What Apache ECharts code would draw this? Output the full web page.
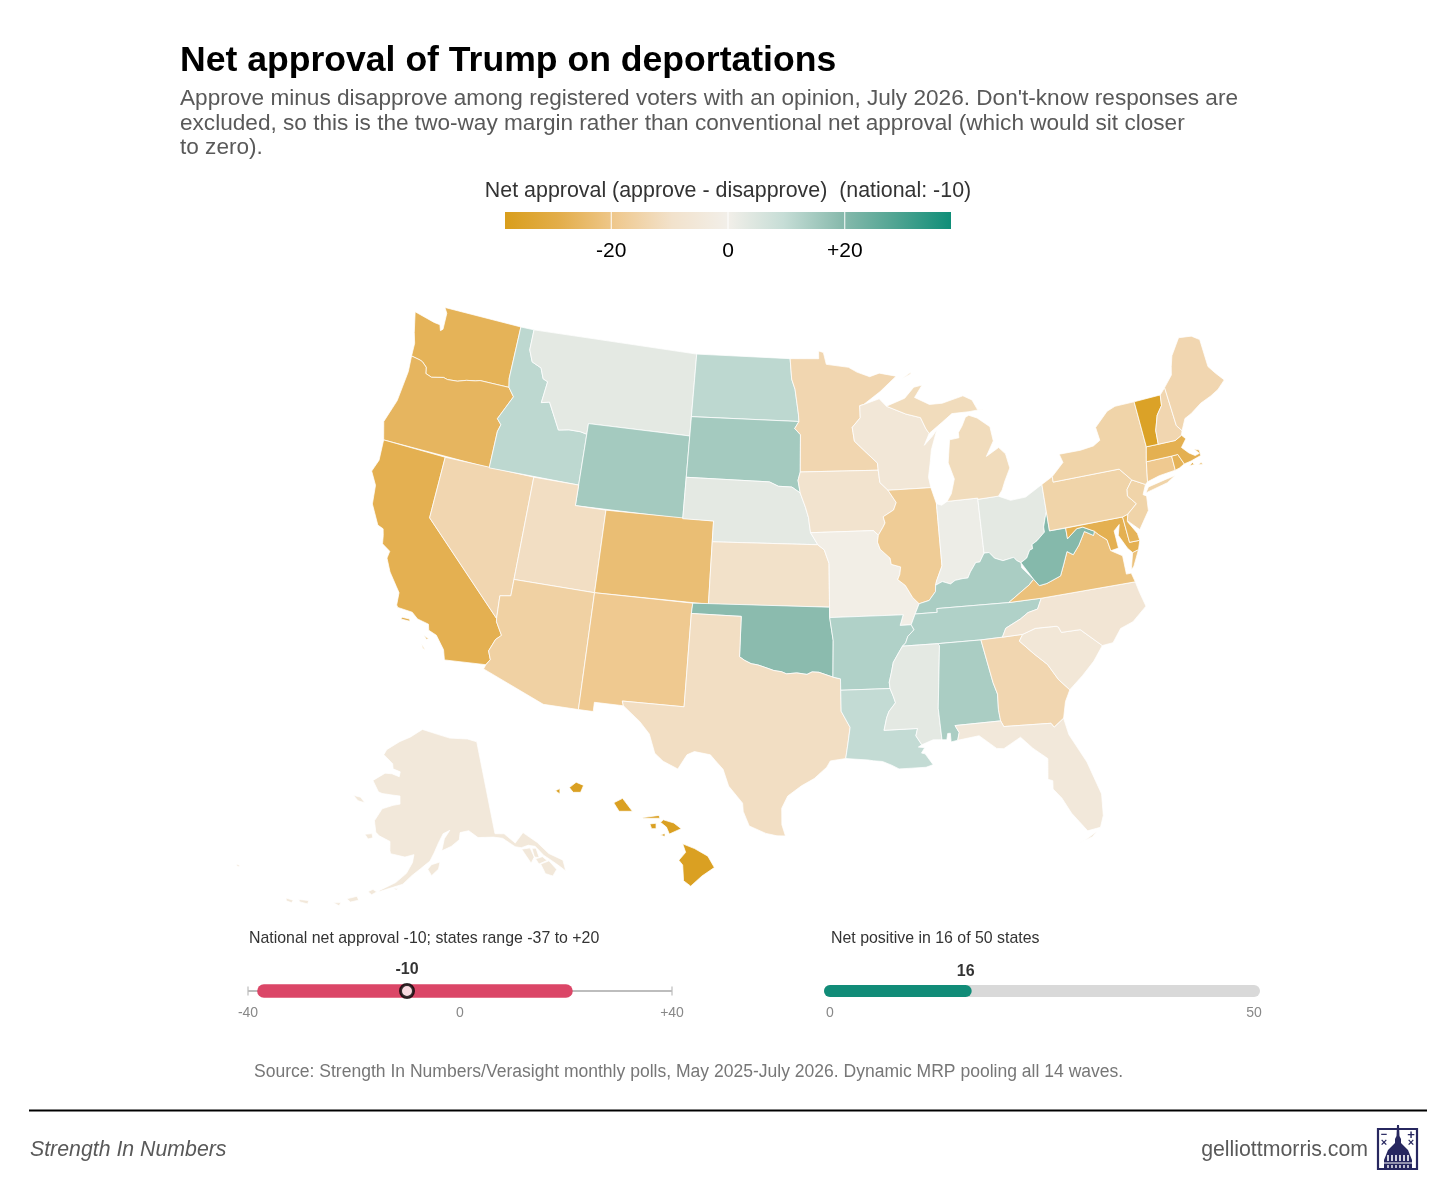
<!DOCTYPE html>
<html><head><meta charset="utf-8">
<style>html,body{margin:0;padding:0;background:#fff}#c{width:1456px;height:1182px}</style>
<script src="https://cdn.jsdelivr.net/npm/echarts@6/dist/echarts.min.js"></script>
</head><body><div id="c"></div>
<script>
// ---------- chart values ----------
const stateCodes  = ['HI','VT','MA','MD','CA','DE','RI','WA','OR','CO','VA','NM','CT','IL','AZ','NY','NJ','PA','NV','ME','NH','MN','GA','MI','UT','TX','KS','IA','NC','SC','WI','AK','FL','MO','IN','MS','OH','MT','NE','LA','ND','ID','TN','AR','KY','AL','SD','WY','OK','WV'];
const stateValues = [-37,-36,-28,-28,-28,-27,-27,-27,-26,-23,-22,-19,-19,-18,-16,-15,-15,-15,-14,-14,-14,-14,-14,-12,-11,-11,-10,-9,-7,-6,-6,-5,-5,-1,1,3,3,3,3,10,11,11,13,13,14,14,15,15,19,20];
const legendTicks = [-20,0,20];
const legendRange = [-38.2,38.2];
const legendColors= ['#D99E1C','#E3AE4C','#EFC98F','#F2E2CC','#F2EFE9','#C6DDD6','#8ABBAE','#50A492','#0F8E78'];
const rangeAxis   = [-40,40];
const rangeTicks  = ['-40','0','+40'];
const stateRange  = [-37,20];
const nationalNet = -10;
const countAxis   = [0,50];
const netPositiveStates = 16;

// ---------- state outlines (lon, lat) ----------
const rev=a=>a.slice().reverse(), R=(...p)=>[].concat(...p);
const stcroix=[[-92.01,46.71],[-92.29,46.66],[-92.29,46.07],[-92.87,45.62],[-92.75,44.95],[-92.0,44.4],[-91.25,43.85],[-91.22,43.5]];
const wiia=[[-91.22,43.5],[-91.15,42.9],[-90.64,42.51]];
const ilia=[[-90.64,42.51],[-90.15,41.9],[-90.35,41.55],[-91.05,41.25],[-90.95,40.95],[-91.1,40.75],[-91.42,40.38]];
const ilmo=[[-91.42,40.38],[-91.5,40.05],[-91.35,39.7],[-90.75,39.25],[-90.7,38.95],[-90.12,38.8],[-90.2,38.45],[-90.35,38.2],[-89.9,37.9],[-89.5,37.3],[-89.13,36.98]];
const tnar=[[-89.7,36],[-89.55,35.75],[-89.95,35.45],[-90.1,35.15],[-90.3,35]];
const msar=[[-90.3,35],[-90.55,34.7],[-90.9,34.25],[-91.05,33.75],[-91.2,33.3],[-91.17,33]];
const msla=[[-91.17,33],[-91,32.6],[-90.9,32.3],[-91.3,31.9],[-91.45,31.6],[-91.63,31],[-89.73,31],[-89.85,30.65],[-89.55,30.2]];
const kyil=[[-89.13,36.98],[-88.5,37.1],[-88.07,37.5],[-88.03,37.8]];
const kyin=[[-88.03,37.8],[-87.6,37.95],[-87.1,37.8],[-86.8,37.95],[-86.3,38],[-86,38],[-85.8,38.28],[-85.4,38.7],[-85.15,38.7],[-84.82,39.1]];
const kyoh=[[-84.82,39.1],[-84.5,39.1],[-84.2,38.8],[-83.7,38.63],[-83,38.72],[-82.85,38.55],[-82.6,38.42]];
const wvoh=[[-82.6,38.42],[-82.2,38.6],[-81.95,38.95],[-81.75,39],[-81.75,39.2],[-81.4,39.35],[-80.85,39.7],[-80.85,39.95],[-80.65,40.4],[-80.52,40.64]];
const moneia=[[-96.45,42.49],[-96.1,41.8],[-95.9,41.3],[-95.85,41],[-95.77,40.58]];
const mone2=[[-95.77,40.58],[-95.31,40]];
const moks=[[-95.31,40],[-94.9,39.75],[-94.61,39.1],[-94.62,37]];
const sdne=[[-104.05,43],[-98.5,43],[-97.9,42.8],[-97,42.77],[-96.45,42.49]];
const redOk=[[-94.48,33.64],[-95.3,33.88],[-95.7,33.9],[-96,33.78],[-96.6,33.85],[-97.2,33.8],[-97.5,33.9],[-97.95,33.95],[-98.5,34.1],[-98.9,34.2],[-99.3,34.25],[-99.7,34.4],[-100,34.56]];
const sabine=[[-94.04,31.99],[-93.55,31.2],[-93.7,30.4],[-93.84,29.7]];
const redRiver=[[-97.23,49],[-97.1,48],[-96.85,47.5],[-96.6,46.3],[-96.56,45.94]];
const sdmn=[[-96.56,45.94],[-96.85,45.6],[-96.45,45.3],[-96.45,43.5]];
const idmt=[[-116.05,49],[-116.05,48],[-115.7,47.45],[-115,47.25],[-114.7,46.75],[-114.35,46.65],[-114.5,45.6],[-113.95,45.7],[-113.45,45.05],[-113,44.45],[-112.3,44.55],[-111.5,44.55],[-111.05,44.48]];
const idor=[[-116.92,46],[-116.47,45.6],[-116.85,45],[-117.22,44.4],[-116.9,44.15],[-117.03,43.8],[-117.03,42]];
const waor=[[-124.05,46.27],[-123.4,46.2],[-123.2,46.15],[-122.85,45.95],[-122.75,45.65],[-122.3,45.55],[-121.5,45.7],[-121.2,45.65],[-120.5,45.7],[-119.9,45.85],[-119.3,45.93],[-118.98,46],[-116.92,46]];
const colo=[[-114.05,36.2],[-114.7,36.1],[-114.63,35]];
const colo2=[[-114.63,35],[-114.6,34.85],[-114.15,34.25],[-114.45,34],[-114.72,33.4],[-114.52,33],[-114.72,32.72]];
const tnnc=[[-81.68,36.59],[-82,36.1],[-82.6,36],[-83.1,35.75],[-84.05,35.4],[-84.32,34.99]];
const gasc=[[-83.1,35],[-83.35,34.7],[-82.6,34],[-81.9,33.4],[-81.4,32.6],[-80.85,32.03]];
const ncsc=[[-83.1,35],[-82.3,35.2],[-81.05,35.15],[-80.93,35.1],[-80.8,34.82],[-79.67,34.8],[-78.55,33.86]];
const alga=[[-85.61,34.98],[-85.18,32.87],[-85,32.3],[-85.05,31.55],[-85,31]];
const kyva=[[-83.68,36.6],[-82.9,37],[-82.3,37.3],[-81.97,37.54]];
const vawv=[[-81.97,37.54],[-81.68,37.2],[-81.2,37.25],[-80.3,37.5],[-80,38],[-79.65,38.6],[-79.3,38.4],[-78.85,38.8],[-78.35,39.4],[-77.83,39.13],[-77.72,39.32]];
const wvmd=[[-77.72,39.32],[-78.4,39.62],[-78.8,39.6],[-79.48,39.2],[-79.48,39.72]];
const potomac=[[-76.95,38.25],[-77.05,38.8],[-77.5,39.12],[-77.72,39.32]];
const njpa=[[-74.7,41.36],[-75.13,40.97],[-75.2,40.65],[-74.75,40.2],[-75.42,39.8]];
const vtnh=[[-71.5,45.01],[-71.6,44.5],[-72.05,44.1],[-72.4,43.4],[-72.46,42.73]];
const cafl=[[-117.12,32.53],[-117.3,33],[-117.9,33.6],[-118.4,33.75],[-118.5,34.03],[-119.2,34.15],[-119.6,34.4],[-120.5,34.45],[-120.6,34.55],[-120.65,35.15],[-120.9,35.4],[-121.5,36],[-121.9,36.6],[-121.85,36.95],[-122.4,37.2],[-122.5,37.6],[-122.62,37.9],[-123,38],[-123.7,38.9],[-123.85,39.8],[-124.35,40.4],[-124.1,41],[-124.2,42]];

const shapes={
 WA:[[[-124.73,48.38],[-123.2,48.15],[-122.75,48.12],[-122.6,47.85],[-122.45,47.95],[-122.5,48.75],[-122.75,49],[-117.03,49],[-117.04,46.43],[-116.92,46],...rev(waor),[-124.1,46.9],[-124.35,47.4]]],
 OR:[R(waor,idor,[[-124.2,42],[-124.55,42.85],[-124.1,44],[-123.95,45.5]])],
 CA:[R([[-124.2,42],[-120,42],[-120,39]],colo2,cafl),[[-120.15,33.95],[-119.6,33.95],[-119.65,34.05],[-120.1,34.05]],[[-118.6,33.45],[-118.3,33.35],[-118.4,33.3]],[[-118.6,33.0],[-118.35,32.8],[-118.5,32.85]]],
 NV:[R([[-120,42],[-114.04,42],[-114.05,37]],colo,[[-120,39]])],
 ID:[R([[-117.03,49]],idmt,[[-111.05,42],[-117.03,42]],rev(idor),[[-117.04,46.43]])],
 MT:[R(idmt,[[-111.05,45],[-104.05,45],[-104.05,49]])],
 WY:[[[-111.05,45],[-104.05,45],[-104.05,43],[-104.05,41],[-111.05,41]]],
 UT:[[[-114.04,42],[-111.05,42],[-111.05,41],[-109.05,41],[-109.05,37],[-114.05,37]]],
 AZ:[R([[-114.05,37],[-109.05,37],[-109.05,31.33],[-111.07,31.33],[-114.8,32.5]],rev(colo2),rev(colo))],
 CO:[[[-109.05,41],[-102.05,41],[-102.05,40],[-102.04,37],[-109.05,37]]],
 NM:[[[-109.05,37],[-103,37],[-103.04,36.5],[-103.06,32],[-106.62,32],[-106.53,31.78],[-108.2,31.78],[-108.2,31.33],[-109.05,31.33]]],
 ND:[R([[-104.05,49]],redRiver,[[-104.05,45.94]])],
 SD:[R([[-104.05,45.94]],sdmn,[[-96.6,43.1]],rev(sdne))],
 NE:[R(sdne,moneia,mone2,[[-102.05,40],[-102.05,41],[-104.05,41]])],
 KS:[R([[-102.05,40]],moks,[[-102.04,37]])],
 OK:[R([[-103,37],[-94.62,37],[-94.62,36.5],[-94.43,35.4]],redOk,[[-100,36.5],[-103.04,36.5]])],
 TX:[R([[-103.04,36.5],[-100,36.5]],rev(redOk),[[-94.04,33.55],[-94.04,33]],sabine,[[-94.7,29.6],[-94.9,29.3],[-95.6,28.75],[-96.3,28.4],[-97.05,27.9],[-97.37,27.3],[-97.35,26.5],[-97.15,25.95],[-97.6,25.95],[-98.2,26.06],[-99.1,26.4],[-99.45,27.1],[-99.5,27.5],[-100.3,28.3],[-100.65,29.1],[-101.1,29.5],[-101.4,29.77],[-102.3,29.88],[-102.7,29.7],[-103.15,28.98],[-104,29.3],[-104.5,29.65],[-104.9,30.55],[-105.5,31.1],[-106.53,31.78],[-106.62,32],[-103.06,32]])],
 MN:[R([[-97.23,49],[-95.15,49],[-95.15,49.38],[-94.8,49.3],[-94.6,48.72],[-93,48.55],[-92.4,48.3],[-91.5,48.05],[-90.8,48.2],[-89.6,48],[-90.8,47.3]],stcroix,[[-96.45,43.5]],rev(sdmn),rev(redRiver))],
 IA:[R([[-96.6,43.1],[-96.45,43.5],[-91.22,43.5]],wiia,ilia,[[-91.73,40.61]],rev(moneia))],
 MO:[R([[-95.77,40.58],[-91.73,40.61]],ilmo,[[-89.42,36.5]],[[-89.7,36],[-90.37,36],[-90.15,36.5],[-94.62,36.5],[-94.62,37]],rev(moks))],
 AR:[R([[-94.62,36.5],[-90.15,36.5],[-90.37,36]],tnar,msar,[[-94.04,33],[-94.04,33.55],[-94.48,33.64],[-94.43,35.4]])],
 LA:[R([[-94.04,33]],msla,[[-89.75,30.1],[-89.4,30.05],[-89.6,29.8],[-89.4,29.75],[-89,29.2],[-89.4,29.1],[-90.2,29.1],[-90.9,29.1],[-91.3,29.3],[-91.8,29.5],[-92.3,29.55],[-92.6,29.6],[-93.84,29.7]],rev(sabine))],
 WI:[R(stcroix,wiia,[[-87.8,42.49],[-87.9,43],[-87.7,43.7],[-87.55,44.3],[-87.05,45.25],[-87.4,44.95],[-88,44.55],[-87.6,45.1],[-87.8,45.35],[-88.1,45.9],[-89.1,46.13],[-90.42,46.57],[-90.9,46.95]])],
 IL:[R(ilia,ilmo,kyil,[[-87.95,38],[-87.53,38.7],[-87.53,39.35],[-87.53,41.7],[-87.8,42.49]]).reverse()],
 IN:[R([[-87.53,41.7],[-87.2,41.6],[-86.82,41.76],[-84.81,41.76],[-84.82,39.1]],rev(kyin),[[-87.95,38],[-87.53,38.7],[-87.53,39.35]])],
 OH:[R([[-84.81,41.7],[-83.45,41.73],[-82.7,41.45],[-81.7,41.5],[-80.52,41.98],[-80.52,40.64]],rev(wvoh),rev(kyoh))],
 MI:[[[-86.82,41.76],[-84.81,41.76],[-84.81,41.7],[-83.45,41.73],[-83.15,42],[-82.9,42.4],[-82.45,43],[-82.6,43.7],[-83,44.05],[-83.9,43.7],[-83.3,44.4],[-83.4,45.1],[-84.2,45.6],[-84.75,45.78],[-85,45.7],[-85.3,45.3],[-85.6,45],[-85.6,44.75],[-86.25,44.7],[-86.5,43.6],[-86.2,42.8],[-86.5,42.1]],[[-90.42,46.57],[-89.1,46.9],[-88.4,47.4],[-87.8,47.47],[-88.4,46.9],[-87.4,46.5],[-86.5,46.5],[-85,46.75],[-84.4,46.5],[-84.1,46],[-83.7,46],[-84.7,45.95],[-85.9,45.95],[-86.6,45.6],[-87.6,45.1],[-87.8,45.35],[-88.1,45.9],[-89.1,46.13]],[[-89.2,47.85],[-88.5,48.15],[-88.55,48.05]]],
 KY:[R([[-89.42,36.5],[-88.07,36.5],[-88.07,36.68],[-83.68,36.6]],kyva.slice(1),[[-82.6,38.17]],rev(kyoh),rev(kyin),rev(kyil))],
 TN:[R([[-89.42,36.5],[-88.07,36.5],[-88.07,36.68],[-83.68,36.6]],tnnc,[[-85.61,34.98],[-88.2,35]],rev(tnar))],
 MS:[R(rev(msar),[[-90.3,35],[-88.2,35],[-88.1,34.9],[-88.47,31.9],[-88.4,30.37],[-88.9,30.4],[-89.55,30.2]],rev(msla))],
 AL:[R([[-88.2,35]],alga,[[-87.6,31],[-87.4,30.65],[-87.52,30.28],[-87.9,30.23],[-87.9,30.65],[-88.05,30.65],[-88.13,30.35],[-88.4,30.37],[-88.47,31.9],[-88.1,34.9]])],
 GA:[R(alga,[[-84.86,30.71],[-82.2,30.57],[-82.05,30.36],[-81.45,30.72],[-81.2,31.5]],rev(gasc),[[-84.32,34.99]])],
 FL:[[[-87.6,31],[-85,31],[-84.86,30.71],[-82.2,30.57],[-82.05,30.36],[-81.45,30.72],[-81.3,29.9],[-80.55,28.45],[-80.05,26.8],[-80.15,25.75],[-80.4,25.2],[-81.1,25.13],[-81.8,26.1],[-82.2,26.9],[-82.6,27.4],[-82.55,27.8],[-82.8,27.9],[-82.65,28.9],[-83.4,29.5],[-84,30.1],[-85,29.65],[-85.4,29.7],[-86.3,30.4],[-87.52,30.28],[-87.4,30.65]],[[-81.8,24.55],[-81.3,24.7],[-80.6,25.05],[-80.9,24.8]]],
 SC:[R(ncsc,[[-79.2,33.2],[-80,32.6]],rev(gasc))],
 NC:[R([[-84.32,34.99]],rev(tnnc),[[-75.87,36.55],[-75.75,36],[-75.55,35.3],[-76.5,34.7],[-77.3,34.5],[-77.9,33.9]],rev(ncsc))],
 VA:[R([[-83.68,36.6],[-81.68,36.59],[-75.87,36.55],[-76,37],[-76.3,37],[-76.3,37.6],[-76.3,37.9]],potomac,rev(vawv),rev(kyva).slice(0,-1)),[[-75.95,37.15],[-75.65,37.95],[-75.25,38.03],[-75.75,37.3]]],
 WV:[R(wvoh,[[-80.52,39.72]],[[-79.48,39.72]],rev(wvmd),rev(vawv))],
 MD:[R([[-79.48,39.72],[-75.79,39.72],[-75.7,38.46],[-75.05,38.45],[-75.25,38.03],[-75.65,37.95],[-75.9,38.2],[-76.3,38.9],[-76.1,39.4],[-76.5,39.15],[-76.45,38.3],[-76.95,38.25]],potomac.slice(1),wvmd.slice(1))],
 DE:[[[-75.79,39.72],[-75.42,39.8],[-75.55,39.45],[-75.1,38.8],[-75.05,38.45],[-75.7,38.46]]],
 PA:[R([[-80.52,41.98],[-79.76,42.27],[-79.76,42],[-75.35,42]],njpa,[[-75.79,39.72],[-80.52,39.72],[-80.52,40.64]])],
 NJ:[R(njpa,[[-75.55,39.5],[-74.9,38.95],[-74.1,39.75],[-74,40.45],[-74.2,40.55],[-73.9,41]])],
 NY:[[[-79.76,42.27],[-79.76,42],[-75.35,42],[-74.7,41.36],[-73.9,41],[-73.73,41.1],[-73.5,42.05],[-73.27,42.75],[-73.35,45],[-74.7,45],[-75.3,44.85],[-76.3,44.2],[-76.2,43.55],[-76.7,43.35],[-77.6,43.27],[-79.05,43.27],[-78.9,42.85]],[[-74,40.6],[-73.75,40.85],[-72.6,41],[-71.9,41.07],[-72.5,40.83]]],
 CT:[[[-73.73,41.1],[-73.5,42.05],[-71.8,42.02],[-71.8,41.32],[-72.9,41.25]]],
 RI:[[[-71.8,42.02],[-71.38,42.02],[-71.13,41.5],[-71.5,41.37],[-71.8,41.32]]],
 MA:[[[-73.5,42.05],[-73.27,42.75],[-72.46,42.73],[-71.3,42.7],[-70.82,42.87],[-70.6,42.65],[-71.03,42.3],[-70.65,41.95],[-70.3,41.75],[-70,41.8],[-70.25,42.07],[-69.95,41.95],[-69.95,41.68],[-70.65,41.55],[-71.13,41.5],[-71.38,42.02],[-71.8,42.02]],[[-70.83,41.35],[-70.5,41.35],[-70.6,41.47]],[[-70.25,41.3],[-69.97,41.25],[-70.05,41.35]]],
 VT:[R([[-73.35,45]],vtnh,[[-73.27,42.75]])],
 NH:[R(vtnh,[[-71.3,42.7],[-70.82,42.87],[-70.7,43.07],[-70.98,43.38],[-71.08,45.3]]).reverse()],
 ME:[[[-71.08,45.3],[-70.4,45.8],[-70.25,46.2],[-70,46.7],[-69.2,47.45],[-68.3,47.35],[-67.8,47.07],[-67.8,45.7],[-67.45,45.3],[-67,44.85],[-67.6,44.5],[-68.2,44.3],[-69,44.1],[-69.8,43.75],[-70.3,43.6],[-70.7,43.07],[-70.98,43.38]]],
 HI:[[[-155.95,20.27],[-155.55,20.12],[-155.1,19.88],[-154.88,19.52],[-155.3,19.25],[-155.68,18.93],[-155.92,19.1],[-155.95,19.6],[-156.08,19.75],[-155.85,20]],[[-156.7,20.95],[-156.6,21.03],[-156.25,20.93],[-156.0,20.75],[-156.4,20.58],[-156.5,20.8]],[[-157.3,21.1],[-156.75,21.17],[-156.72,21.08],[-157.28,21.08]],[[-157.06,20.9],[-156.85,20.92],[-156.85,20.75],[-157.0,20.75]],[[-156.7,20.55],[-156.55,20.6],[-156.55,20.5]],[[-158.28,21.57],[-157.98,21.71],[-157.65,21.3],[-158.1,21.3]],[[-159.78,22.05],[-159.55,22.22],[-159.3,22.12],[-159.4,21.9],[-159.65,21.9]],[[-160.25,21.95],[-160.1,22.02],[-160.1,21.85]]],
 AK:[[[-141,69.65],[-143.5,70.1],[-148.5,70.4],[-152,70.85],[-156.6,71.35],[-160,70.5],[-163,69.9],[-166.2,68.9],[-166.7,68.35],[-164,67.6],[-163.7,67.1],[-161.8,66.9],[-161.9,66.4],[-163.8,66.6],[-165.5,66.55],[-168.1,65.6],[-166.3,64.6],[-165.4,64.5],[-163,64.5],[-161.2,64.5],[-161,63.7],[-162.5,63.5],[-164.8,63],[-166,61.7],[-165.3,60.6],[-164.5,60.3],[-162.2,59.9],[-162,59],[-161.8,58.7],[-159,58.5],[-157.3,58.8],[-157.5,58],[-158.5,56.9],[-160.3,55.9],[-162.8,55],[-163.2,54.75],[-161.5,55.2],[-159,55.8],[-157.5,56.7],[-156,57.4],[-154.2,58.2],[-153.4,59],[-152.5,60],[-151.5,60.9],[-150.1,61.2],[-151.3,60.4],[-151.9,59.2],[-150,59.6],[-148.3,60.2],[-148,60.9],[-146.2,61],[-144.5,60.2],[-141.5,60],[-139.7,59.7],[-137.7,58.6],[-136.6,58.35],[-135.2,58.4],[-134,58.1],[-133,57],[-132,56.3],[-131,55.5],[-130.2,54.8],[-130,55.9],[-132,57],[-133.4,58.4],[-135.5,59.75],[-137.5,58.95],[-139.2,60.1],[-141,60.3]],
  [[-154.6,57.4],[-153.9,57.85],[-152.3,58.1],[-152.6,57.4],[-153.9,56.75]],
  [[-171.7,63.7],[-170,63.7],[-168.8,63.25],[-170.4,63.3]],
  [[-167.4,60.2],[-166,60.4],[-165.7,60],[-166.6,59.8]],
  [[-136.6,58.2],[-135,58.1],[-134.75,57.1],[-135.6,56.6]],
  [[-134.7,58],[-133.95,57.9],[-133.9,56.9],[-134.7,57.1]],
  [[-134.6,56.9],[-133.3,56.9],[-132.7,56.4],[-134.3,56.3]],
  [[-134,56.25],[-132.4,56.3],[-131.6,55.25],[-132.6,54.75],[-133.7,55.2]],
  [[-164.9,54.65],[-164.1,54.95],[-163.4,54.75],[-164.2,54.4]],
  [[-168.2,53.55],[-166.6,54],[-166.2,53.65],[-167.5,53.3]],
  [[-170.2,52.85],[-169,53.05],[-169.2,52.7]],
  [[-175.8,52.2],[-174.2,52.4],[-174.2,52.05],[-175.5,52]],
  [[-177.8,51.9],[-176.6,51.95],[-176.7,51.65],[-177.6,51.65]],
  [[-187.4,52.95],[-186.9,52.95],[-186.8,52.8],[-187.3,52.78]],
  [[-160.6,55.35],[-159.8,55.3],[-160.1,55.15]]]
};
const usa={type:'FeatureCollection',features:Object.keys(shapes).map(k=>({type:'Feature',properties:{name:k},geometry:{type:'MultiPolygon',coordinates:shapes[k].map(r=>[r.concat([r[0]])])}}))};

// ---------- projection ----------
const D=Math.PI/180;
function albers(p1,p2){const s1=Math.sin(p1*D),c1=Math.cos(p1*D),n=(s1+Math.sin(p2*D))/2,C=c1*c1+2*n*s1;return (dl,phi)=>{const r=Math.sqrt(C-2*n*Math.sin(phi*D))/n,t=n*dl*D;return [r*Math.sin(t),r*Math.cos(t)];};}
const a48=albers(29.5,45.5),aAK=albers(55,65);
const K48=1183,X48=807,Y48=572,R0=1.2822,KAK=575,XAK=431,YAK=511,KHI=1810;
function project(p){const lon=p[0],lat=p[1];
 if(lat>50.2){const q=aAK(lon+154,lat);return [XAK+KAK*q[0],YAK+KAK*q[1]];}
 if(lon<-140){return [696+KHI*Math.cos(20.5*D)*(lon+155.5)*D,865-KHI*(lat-19.6)*D];}
 const q=a48(lon+96,lat);return [X48+K48*q[0],Y48-K48*(R0-q[1])];}
function unproject(p){return [-96+(p[0]-X48)/K48/0.6028/D/1.2,38.7-(p[1]-Y48)/K48/D];}
let bb=[1e9,1e9,-1e9,-1e9];
Object.values(shapes).forEach(m=>m.forEach(r=>r.forEach(c=>{const q=project(c);bb=[Math.min(bb[0],q[0]),Math.min(bb[1],q[1]),Math.max(bb[2],q[0]),Math.max(bb[3],q[1])];})));
echarts.registerMap('usa',usa);

// ---------- drawing ----------
const FONT='"Liberation Sans",Arial,sans-serif';
const NAVY='#27275f';
const LEGX=x=>505+(x-legendRange[0])/(legendRange[1]-legendRange[0])*446;
const txt=(x,y,text,size,fill,o={})=>({type:'text',z:50,silent:true,x,y:y+1,style:Object.assign({text,fontSize:size,fill,fontFamily:FONT,verticalAlign:'middle',align:'left'},o)});
const fmt=v=>v>0?'+'+v:String(v);
const graphic=[
 txt(180,60,'Net approval of Trump on deportations',35.6,'#000',{fontWeight:'bold'}),
 txt(180,98,"Approve minus disapprove among registered voters with an opinion, July 2026. Don't-know responses are",22.6,'#595959'),
 txt(180,122.5,'excluded, so this is the two-way margin rather than conventional net approval (which would sit closer',22.6,'#595959'),
 txt(180,147,'to zero).',22.6,'#595959'),
 txt(728,190,'Net approval (approve - disapprove)  (national: -10)',21.4,'#333',{align:'center'}),
 {type:'rect',z:49,silent:true,shape:{x:505,y:212,width:446,height:17},style:{fill:new echarts.graphic.LinearGradient(0,0,1,0,legendColors.map((c,i)=>({offset:i/(legendColors.length-1),color:c})))}},
 ...legendTicks.map(t=>({type:'line',z:50,silent:true,shape:{x1:LEGX(t),y1:212,x2:LEGX(t),y2:229},style:{stroke:'#fff',lineWidth:1}})),
 ...legendTicks.map(t=>txt(LEGX(t),250.5,t===0?'0':fmt(t),21,'#000',{align:'center'})),
 txt(249,937.5,'National net approval -10; states range -37 to +20',15.9,'#333'),
 txt(831,937.5,'Net positive in 16 of 50 states',15.9,'#333'),
 txt(254,1071.5,'Source: Strength In Numbers/Verasight monthly polls, May 2025-July 2026. Dynamic MRP pooling all 14 waves.',17.55,'#777'),
 {type:'line',z:50,silent:true,shape:{x1:29,y1:1110.5,x2:1427,y2:1110.5},style:{stroke:'#000',lineWidth:2}},
 txt(30,1149.5,'Strength In Numbers',21.3,'#595959',{fontStyle:'italic'}),
 txt(1368,1149.5,'gelliottmorris.com',21.3,'#595959',{align:'right'}),
 // logo
 {type:'rect',z:50,silent:true,shape:{x:1378,y:1129,width:39,height:40},style:{fill:'#fff',stroke:NAVY,lineWidth:2.2}},
 {type:'polygon',z:51,silent:true,shape:{points:[[1397,1125],[1399,1125],[1399.5,1136],[1401,1139],[1401,1143],[1408,1150],[1412,1160],[1412,1169],[1384,1169],[1384,1160],[1388,1150],[1395,1143],[1395,1139],[1396.5,1136]]},style:{fill:NAVY}},
 ...[1388,1392,1396,1400,1404,1408].map(x=>({type:'line',z:52,silent:true,shape:{x1:x,y1:1155,x2:x,y2:1161},style:{stroke:'#fff',lineWidth:1.6}})),
 {type:'line',z:52,silent:true,shape:{x1:1384,y1:1163,x2:1412,y2:1163},style:{stroke:'#fff',lineWidth:1}},
 ...[1388,1392,1396,1400,1404,1408].map(x=>({type:'line',z:52,silent:true,shape:{x1:x,y1:1165,x2:x,y2:1168},style:{stroke:'#fff',lineWidth:1.4}})),
 txt(1384,1134,'−',11,NAVY,{align:'center',fontWeight:'bold'}),
 txt(1411,1134,'+',13,NAVY,{align:'center',fontWeight:'bold'}),
 txt(1384,1142,'×',11,NAVY,{align:'center',fontWeight:'bold'}),
 txt(1411,1142,'×',11,NAVY,{align:'center',fontWeight:'bold'})
];

const axisLab={color:'#888',fontSize:14,fontFamily:FONT};
const chart=echarts.init(document.getElementById('c'),null,{renderer:'canvas'});
chart.setOption({
 animation:false,backgroundColor:'#fff',textStyle:{fontFamily:FONT},
 visualMap:{type:'continuous',seriesIndex:0,show:false,min:legendRange[0],max:legendRange[1],inRange:{color:legendColors}},
 grid:[{left:248,width:424,top:986,height:10},{left:830,width:424,top:986,height:10}],
 xAxis:[
  {gridIndex:0,type:'value',min:rangeAxis[0],max:rangeAxis[1],interval:40,splitLine:{show:false},axisLine:{show:false},axisTick:{show:false},axisLabel:Object.assign({margin:10,hideOverlap:false,showMinLabel:true,showMaxLabel:true,formatter:v=>rangeTicks[(v+40)/40]},axisLab)},
  {gridIndex:1,type:'value',min:countAxis[0],max:countAxis[1],interval:50,splitLine:{show:false},axisLine:{show:false},axisTick:{show:false},axisLabel:Object.assign({margin:10,showMinLabel:true,showMaxLabel:true},axisLab)}],
 yAxis:[0,1].map(i=>({gridIndex:i,type:'category',data:['g'],show:false})),
 series:[
  {type:'map',map:'usa',projection:{project,unproject},aspectScale:1,roam:false,silent:true,left:bb[0],top:bb[1],width:bb[2]-bb[0],height:bb[3]-bb[1],
   itemStyle:{borderColor:'#fff',borderWidth:0.75},label:{show:false},emphasis:{disabled:true},select:{disabled:true},
   data:stateCodes.map((n,i)=>({name:n,value:stateValues[i]}))},
  {type:'line',xAxisIndex:0,yAxisIndex:0,clip:false,silent:true,symbol:'none',data:[[rangeAxis[0],'g'],[rangeAxis[1],'g']],lineStyle:{color:'#BDBDBD',width:2}},
  {type:'scatter',xAxisIndex:0,yAxisIndex:0,clip:false,silent:true,symbol:'rect',symbolSize:[1.5,9],data:[[rangeAxis[0],'g'],[rangeAxis[1],'g']],itemStyle:{color:'#BDBDBD'}},
  {type:'line',xAxisIndex:0,yAxisIndex:0,clip:false,silent:true,symbol:'none',data:[[stateRange[0],'g'],[stateRange[1],'g']],lineStyle:{color:'#DB4667',width:13.5,cap:'round'},z:3},
  {type:'scatter',xAxisIndex:0,yAxisIndex:0,clip:false,silent:true,symbol:'circle',symbolSize:13,z:4,data:[[nationalNet,'g']],itemStyle:{color:'#fff',borderColor:'#000',borderWidth:3},
   label:{show:true,position:'top',distance:5,formatter:String(nationalNet),fontWeight:'bold',fontSize:16,color:'#000',fontFamily:FONT}},
  {type:'line',xAxisIndex:1,yAxisIndex:1,clip:false,silent:true,symbol:'none',data:[[countAxis[0],'g'],[countAxis[1],'g']],lineStyle:{color:'#D9D9D9',width:12,cap:'round'}},
  {type:'line',xAxisIndex:1,yAxisIndex:1,clip:false,silent:true,symbol:'none',data:[[countAxis[0],'g'],[netPositiveStates,'g']],lineStyle:{color:'#118C78',width:12,cap:'round'},z:3},
  {type:'scatter',xAxisIndex:1,yAxisIndex:1,clip:false,silent:true,symbol:'circle',symbolSize:1,z:4,data:[[netPositiveStates,'g']],itemStyle:{color:'transparent'},
   label:{show:true,position:'top',distance:11,formatter:String(netPositiveStates),fontWeight:'bold',fontSize:16,color:'#000',fontFamily:FONT}}
 ],
 graphic:{elements:graphic}
});
</script></body></html>
